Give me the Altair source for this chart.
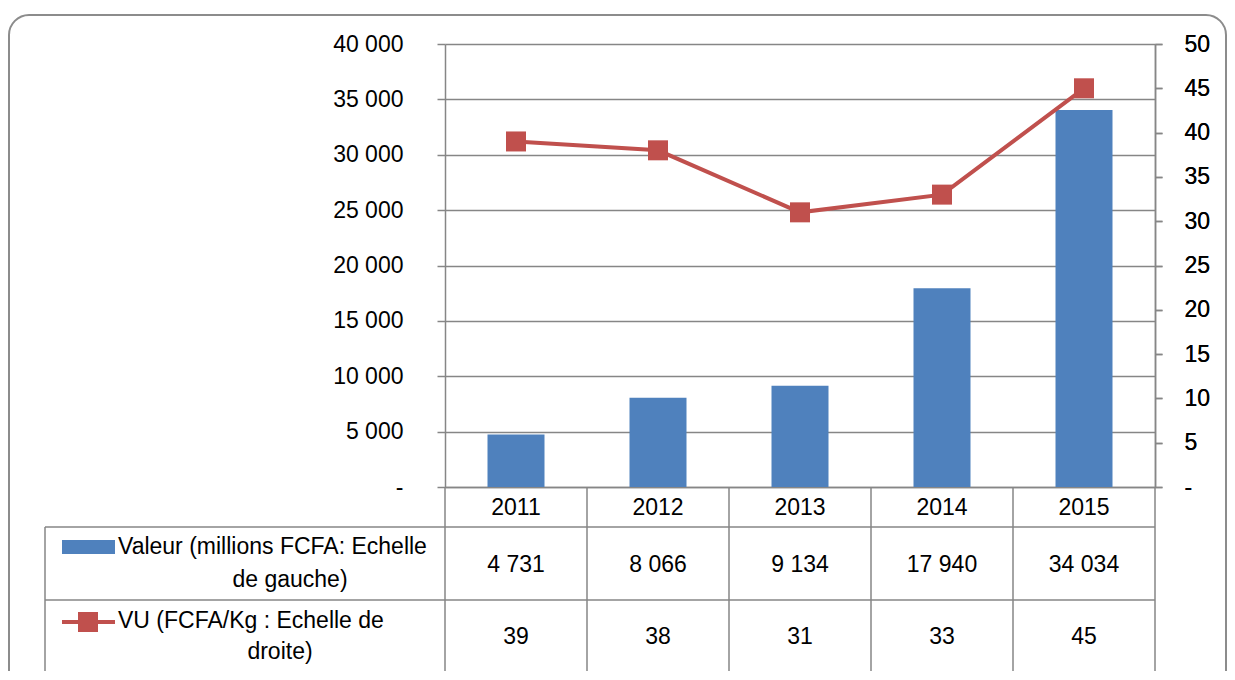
import altair as alt
import pandas as pd

years = ["2011", "2012", "2013", "2014", "2015"]
valeur = [4731, 8066, 9134, 17940, 34034]
vu = [39, 38, 31, 33, 45]
left_ticks = [0, 5000, 10000, 15000, 20000, 25000, 30000, 35000, 40000]
right_ticks = [0, 5, 10, 15, 20, 25, 30, 35, 40, 45, 50]
row1_label = ["Valeur (millions FCFA: Echelle", "de gauche)"]
row2_label = ["VU (FCFA/Kg : Echelle de", "droite)"]

BLUE = "#4F81BD"
RED = "#C0504D"
GRID = "#868686"
FONT = "Liberation Sans"
FS = 23
W, H = 710, 443

df = pd.DataFrame({
    "year": years,
    "valeur": valeur,
    "vu": vu,
    "valeur_txt": [f"{v:,}".replace(",", " ") for v in valeur],
    "vu_txt": [str(v) for v in vu],
})
one = pd.DataFrame({"k": [0]})

x_axis = alt.Axis(title=None, orient="bottom", domain=True, domainColor=GRID, domainWidth=1.5,
                  ticks=False, tickSize=0, labelPadding=20, labelBaseline="middle", labelAngle=0,
                  labelFont=FONT, labelFontSize=FS, labelColor="black", grid=False)
x_scale = alt.Scale(paddingInner=0, paddingOuter=0)


def X(**kw):
    return alt.X("year:N", scale=x_scale, axis=x_axis, sort=years, **kw)


nbsp = "\u00a0" * 11
left_axis = alt.Axis(title=None, values=left_ticks, grid=True, gridColor=GRID, gridWidth=1.5,
                     domainColor=GRID, domainWidth=1.5, tickColor=GRID, tickWidth=1.5, tickSize=8,
                     labelPadding=34, labelFont=FONT, labelFontSize=FS, labelColor="black",
                     labelExpr="datum.value == 0 ? '-" + nbsp + "' : floor(datum.value/1000) + ' 000'")
right_axis = alt.Axis(title=None, orient="right", values=right_ticks, grid=False,
                      domainColor=GRID, domainWidth=1.5, tickColor=GRID, tickWidth=1.5, tickSize=7,
                      labelPadding=22, labelFont=FONT, labelFontSize=FS, labelColor="black",
                      labelExpr="datum.value == 0 ? '-' : datum.label")

border = alt.Chart(one).mark_rect(fillOpacity=0, stroke="#8c8c8c", strokeWidth=2, cornerRadius=20).encode(
    x=alt.value(-436), x2=alt.value(781), y=alt.value(-29), y2=alt.value(720))

bars = alt.Chart(df).mark_bar(size=57, color=BLUE).encode(
    x=X(),
    y=alt.Y("valeur:Q", scale=alt.Scale(domain=[0, 40000], nice=False), axis=left_axis),
)

line = alt.Chart(df).mark_line(color=RED, strokeWidth=4).encode(
    x=X(),
    y=alt.Y("vu:Q", scale=alt.Scale(domain=[0, 50], nice=False), axis=right_axis),
)
pts = alt.Chart(df).mark_square(size=400, color=RED, opacity=1).encode(
    x=X(),
    y=alt.Y("vu:Q", scale=alt.Scale(domain=[0, 50], nice=False), axis=right_axis),
)

rule_style = dict(color=GRID, strokeWidth=1.5)
hrules = alt.layer(*[
    alt.Chart(one).mark_rule(**rule_style).encode(x=alt.value(-400), x2=alt.value(W), y=alt.value(yy))
    for yy in (483, 556, 631)
])
vrule_left = alt.Chart(one).mark_rule(**rule_style).encode(
    x=alt.value(-400), y=alt.value(483), y2=alt.value(631))
vrule_right = alt.Chart(one).mark_rule(**rule_style).encode(
    x=alt.value(W), y=alt.value(443), y2=alt.value(631))
vrules = alt.Chart(df).mark_rule(**rule_style).encode(
    x=X(bandPosition=0), y=alt.value(443), y2=alt.value(631))

txt = dict(font=FONT, fontSize=FS, color="black", baseline="middle")
val_txt = alt.Chart(df).mark_text(**txt).encode(x=X(), y=alt.value(521), text="valeur_txt:N")
vu_txt = alt.Chart(df).mark_text(**txt).encode(x=X(), y=alt.value(593), text="vu_txt:N")

lab1a = alt.Chart(one).mark_text(text=row1_label[0], align="left", **txt).encode(x=alt.value(-327), y=alt.value(503))
lab1b = alt.Chart(one).mark_text(text=row1_label[1], align="center", **txt).encode(x=alt.value(-155), y=alt.value(536))
lab2a = alt.Chart(one).mark_text(text=row2_label[0], align="left", **txt).encode(x=alt.value(-327), y=alt.value(577))
lab2b = alt.Chart(one).mark_text(text=row2_label[1], align="center", **txt).encode(x=alt.value(-165), y=alt.value(608))

leg_bar = alt.Chart(one).mark_rect(color=BLUE).encode(
    x=alt.value(-383), x2=alt.value(-330), y=alt.value(496), y2=alt.value(510))
leg_line = alt.Chart(one).mark_rule(color=RED, strokeWidth=4).encode(
    x=alt.value(-383), x2=alt.value(-330), y=alt.value(578))
leg_pt = alt.Chart(one).mark_square(size=400, color=RED, opacity=1).encode(
    x=alt.value(-357), y=alt.value(578))

chart = alt.layer(
    border, bars, line, pts, hrules, vrule_left, vrule_right, vrules,
    val_txt, vu_txt, lab1a, lab1b, lab2a, lab2b, leg_bar, leg_line, leg_pt,
).resolve_scale(y="independent").properties(
    width=W, height=H,
    autosize=alt.AutoSizeParams(type="none"),
    padding={"left": 437, "top": 36, "right": 72, "bottom": 184},
    background="white",
).configure_view(strokeWidth=0)

chart.save("out.html", embed_options={"renderer": "svg", "actions": False})
